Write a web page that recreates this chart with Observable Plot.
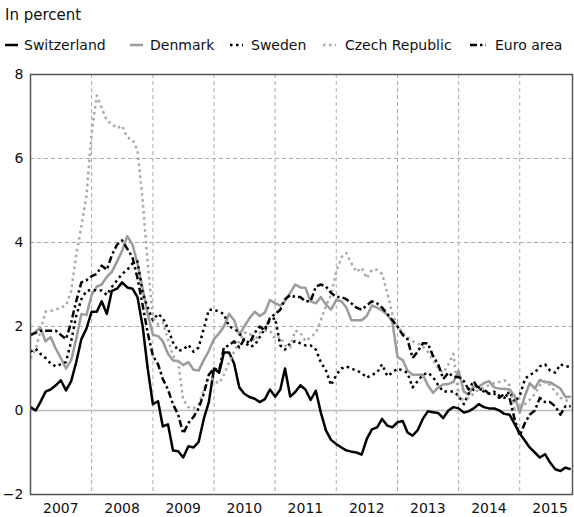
<!DOCTYPE html>
<html><head><meta charset="utf-8">
<script src="https://cdn.jsdelivr.net/npm/d3@7"></script>
<script src="https://cdn.jsdelivr.net/npm/@observablehq/plot@0.6"></script>
<style>
body{margin:0;background:#fff;}
#wrap{width:574px;font-family:"DejaVu Sans",sans-serif;}
#wrap svg{display:block;}
</style></head>
<body><div id="wrap"></div>
<script>
// Monthly values, Jan 2007 .. Nov 2015 (in percent)
const switzerland = [
  0.08,0.0,0.2,0.45,0.5,0.6,0.72,0.48,0.7,1.15,1.7,1.95,
  2.35,2.35,2.6,2.3,2.85,2.9,3.05,2.93,2.9,2.7,2.0,1.0,
  0.15,0.22,-0.38,-0.33,-0.95,-0.97,-1.12,-0.85,-0.88,-0.75,-0.2,0.2,
  1.0,0.9,1.38,1.38,1.12,0.55,0.4,0.32,0.28,0.2,0.27,0.5,
  0.33,0.5,1.0,0.33,0.44,0.6,0.5,0.25,0.47,-0.05,-0.48,-0.7,
  -0.8,-0.88,-0.95,-0.98,-1.0,-1.05,-0.68,-0.45,-0.4,-0.2,-0.36,-0.4,
  -0.28,-0.25,-0.52,-0.6,-0.47,-0.2,-0.02,-0.04,-0.06,-0.18,0.0,0.08,
  0.05,-0.05,-0.02,0.05,0.15,0.08,0.05,0.05,0.0,-0.08,-0.1,-0.32,
  -0.55,-0.72,-0.88,-1.0,-1.12,-1.04,-1.24,-1.4,-1.44,-1.36,-1.4
];
const denmark = [
  1.78,1.88,1.97,1.65,1.75,1.47,1.25,1.0,1.2,1.7,2.3,2.27,
  2.75,2.95,3.0,3.18,3.3,3.55,3.8,4.15,3.95,3.5,2.9,2.3,
  1.8,1.77,1.65,1.35,1.19,1.18,1.08,1.15,0.97,0.95,1.2,1.42,
  1.7,1.84,2.0,2.3,2.15,1.8,2.0,2.2,2.35,2.25,2.33,2.63,
  2.55,2.5,2.6,2.8,3.0,2.93,2.92,2.6,2.55,2.7,2.52,2.4,
  2.63,2.6,2.45,2.15,2.15,2.15,2.25,2.5,2.45,2.38,2.28,2.12,
  1.27,1.2,0.95,0.85,0.85,0.85,0.6,0.42,0.55,0.62,0.63,0.68,
  0.95,0.45,0.38,0.58,0.57,0.65,0.7,0.55,0.52,0.52,0.5,0.35,
  -0.05,0.35,0.65,0.52,0.73,0.67,0.67,0.6,0.52,0.32,0.33
];
const sweden = [
  1.4,1.47,1.35,1.25,1.12,1.05,1.1,1.15,1.65,2.25,2.65,2.85,
  2.87,2.86,2.86,2.75,2.94,3.1,3.25,3.35,3.5,3.55,2.8,2.45,
  2.15,2.3,2.2,1.95,1.62,1.42,1.45,1.56,1.4,1.5,1.95,2.4,
  2.4,2.35,2.3,2.0,1.95,1.85,1.65,1.52,1.55,1.75,1.95,2.15,
  2.2,1.55,1.45,1.6,1.65,1.6,1.55,1.55,1.45,1.15,0.95,0.6,
  0.85,1.0,1.05,1.0,0.95,0.9,0.78,0.85,0.9,1.1,0.82,0.9,
  1.0,0.95,0.9,0.55,0.7,0.85,0.9,0.8,0.6,0.45,0.45,0.45,
  0.35,0.15,0.4,0.5,0.55,0.45,0.4,0.45,0.35,0.3,0.45,0.2,
  0.35,0.75,0.85,0.9,1.05,1.1,0.95,0.9,1.1,1.05,1.05
];
const czech = [
  1.25,1.45,1.9,2.35,2.37,2.4,2.45,2.5,2.85,3.7,4.4,5.1,
  6.6,7.5,7.2,6.9,6.82,6.72,6.78,6.5,6.45,6.2,5.0,3.5,
  2.2,2.05,2.1,1.7,1.3,1.15,0.25,0.08,0.05,0.15,0.5,0.85,
  0.7,0.65,0.85,1.15,1.4,1.65,1.85,1.85,1.65,1.85,1.9,1.9,
  1.7,1.75,1.55,1.5,1.9,1.85,1.65,1.75,1.85,2.15,2.5,2.75,
  3.3,3.65,3.75,3.5,3.3,3.4,3.15,3.35,3.35,3.25,2.8,2.3,
  2.0,1.85,1.75,1.65,1.6,1.52,1.4,1.2,1.0,0.9,1.1,1.35,
  0.3,0.25,0.3,0.4,0.5,0.55,0.6,0.65,0.68,0.72,0.6,0.05,
  0.1,0.15,0.25,0.4,0.6,0.7,0.6,0.45,0.3,0.25,0.2
];
const euroArea = [
  1.8,1.85,1.9,1.9,1.9,1.9,1.8,1.7,2.1,2.6,3.05,3.1,
  3.2,3.25,3.45,3.35,3.7,3.95,4.05,3.85,3.65,3.15,2.5,1.85,
  1.3,1.1,0.75,0.5,0.15,-0.1,-0.55,-0.3,-0.15,0.05,0.4,0.85,
  1.0,0.95,1.5,1.55,1.65,1.5,1.7,1.6,1.85,2.0,1.9,2.2,
  2.3,2.4,2.65,2.75,2.7,2.7,2.6,2.6,2.95,3.0,2.95,2.8,
  2.7,2.7,2.65,2.55,2.45,2.4,2.5,2.6,2.55,2.45,2.3,2.15,
  2.0,1.8,1.7,1.25,1.4,1.6,1.6,1.3,1.1,0.75,0.9,0.8,
  0.8,0.7,0.5,0.7,0.5,0.5,0.4,0.4,0.3,0.4,0.3,-0.2,
  -0.6,-0.3,-0.1,0.0,0.3,0.2,0.2,0.1,-0.1,0.1,0.1
];
const yearLabels = [2007,2008,2009,2010,2011,2012,2013,2014,2015];
const yTicks = [-2,0,2,4,6,8];
const titleText = "In percent";

const seriesDefs = [
  {name:"Switzerland", values:switzerland, stroke:"#000", dash:null, width:2.5},
  {name:"Denmark", values:denmark, stroke:"#9b9b9b", dash:null, width:2.5},
  {name:"Sweden", values:sweden, stroke:"#000", dash:"2.5 3.5", width:2.5},
  {name:"Czech Republic", values:czech, stroke:"#a8a8a8", dash:"2.5 3.5", width:2.5},
  {name:"Euro area", values:euroArea, stroke:"#000", dash:"7 3 2.5 3", width:2.5}
];

const months = d3.utcMonth.range(new Date(Date.UTC(2007,0,1)), new Date(Date.UTC(2015,11,1)));
const rowsFor = vals => vals.map((v,i)=>({date:months[i], value:v}));

// Header (title + legend)
const wrap = document.getElementById("wrap");
const ns = "http://www.w3.org/2000/svg";
const head = document.createElementNS(ns,"svg");
head.setAttribute("width",574); head.setAttribute("height",60);
head.setAttribute("font-family","DejaVu Sans, sans-serif");
const mk = (tag, attrs, txt) => { const e = document.createElementNS(ns,tag); for (const k in attrs) e.setAttribute(k, attrs[k]); if (txt!=null) e.textContent = txt; head.appendChild(e); return e; };
mk("text",{x:5,y:20,"font-size":15,fill:"#111"},titleText);
const legendX = [[5,18,24],[130,143,150],[230,243,251],[323,336,345],[470,486,495]];
seriesDefs.forEach((s,i)=>{
  const [x1,x2,tx] = legendX[i];
  const ln = mk("line",{x1:x1,x2:x2,y1:45,y2:45,stroke:s.stroke,"stroke-width":s.width});
  if (s.dash) ln.setAttribute("stroke-dasharray", s.dash);
  mk("text",{x:tx,y:50,"font-size":14,fill:"#111"},s.name);
});
wrap.appendChild(head);

const x0 = new Date(Date.UTC(2007,0,1)), x1 = new Date(Date.UTC(2015,10,12));
const gridYears = yearLabels.slice(1).map(y=>new Date(Date.UTC(y,0,1)));
const midYears = yearLabels.map(y=>new Date(Date.UTC(y,6,1)));

const marks = [
  Plot.ruleY([2,4,6], {stroke:"#aaa", strokeDasharray:"4 3", strokeWidth:1}),
  Plot.ruleX(gridYears, {stroke:"#aaa", strokeDasharray:"4 3", strokeWidth:1}),
  Plot.ruleY([0], {stroke:"#bbb", strokeWidth:1.5}),
  Plot.axisX(midYears, {tickSize:0, tickPadding:9, tickFormat:d=>String(d.getUTCFullYear()), fontSize:14, fill:"#111", label:null}),
  Plot.axisY(yTicks, {tickSize:0, tickPadding:7, fontSize:14, fill:"#111", label:null, tickFormat:d=>d<0?"\u2212"+Math.abs(d):String(d)})
];
for (const s of seriesDefs) {
  marks.push(Plot.line(rowsFor(s.values), {x:"date", y:"value", stroke:s.stroke, strokeWidth:s.width,
    strokeDasharray:s.dash||undefined, strokeLinejoin:"round", strokeLinecap:"butt", curve:"linear"}));
}
marks.push(Plot.frame({stroke:"#555", strokeWidth:1.5}));

const chart = Plot.plot({
  width:574, height:457,
  marginLeft:30, marginRight:2, marginTop:14, marginBottom:23,
  x:{type:"utc", domain:[x0,x1]},
  y:{domain:[-2,8]},
  style:{fontFamily:"DejaVu Sans, sans-serif", fontSize:"14px", background:"#fff", color:"#111"},
  marks
});
wrap.appendChild(chart);
</script>
</body></html>
